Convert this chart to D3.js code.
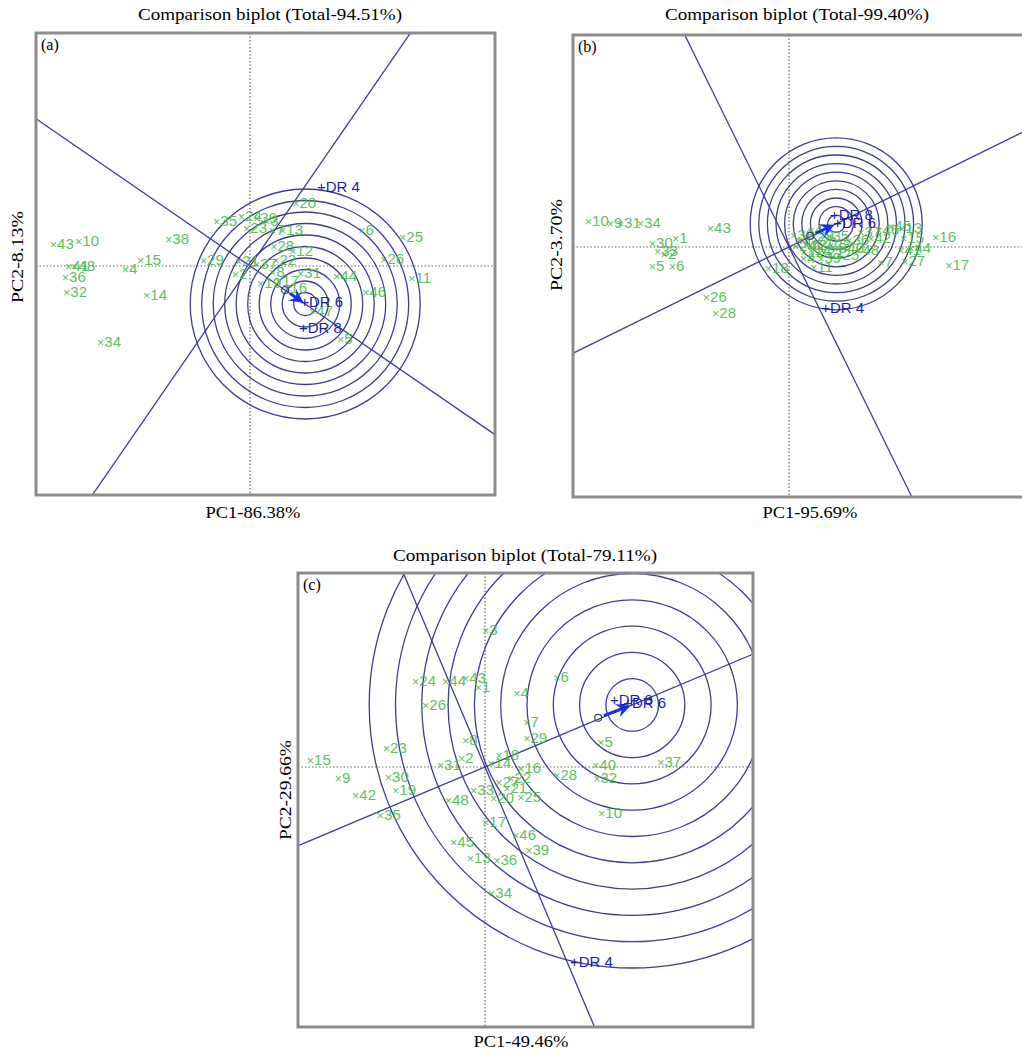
<!DOCTYPE html>
<html>
<head>
<meta charset="utf-8">
<script src="https://cdn.jsdelivr.net/npm/d3@7"></script>
<style>
  body { margin: 0; background: #fff; }
  svg { display: block; }
</style>
</head>
<body>
<div id="chart"></div>
<script>
// genotype scores (PC1, PC2)
var genoA = [
  ["43",-4.88,0.55],["10",-4.25,0.63],["41",-4.5,0],["48",-4.35,0],["36",-4.58,-0.28],
  ["32",-4.55,-0.65],["4",-3.08,-0.08],["15",-2.7,0.15],["14",-2.55,-0.73],["38",-2.0,0.68],
  ["34",-3.7,-1.9],["29",-1.13,0.15],["21",-0.25,0.13],["35",-0.8,1.13],["24",-0.18,1.25],
  ["39",0.2,1.2],["3",0.45,1.13],["20",1.18,1.58],["7",0.6,0.9],["13",0.85,0.9],
  ["6",2.83,0.9],["25",3.85,0.73],["26",3.38,0.18],["11",4.08,-0.3],["46",2.93,-0.65],
  ["28",0.63,0.5],["12",1.1,0.38],["22",0.68,0.15],["2",-0.33,-0.2],["8",0.6,-0.15],
  ["31",1.3,-0.18],["44",2.2,-0.25],["16",0.95,-0.55],["5",2.3,-1.83],["47",1.6,-1.13],
  ["37",0.2,0.05],["17",0.75,-0.38],["19",0.3,-0.43],["23",-0.05,0.95]
];
var genoB = [
  ["10",-4.98,0.65],["9",-4.43,0.6],["31",-4.18,0.6],["34",-3.68,0.6],["43",-1.93,0.48],
  ["1",-2.8,0.23],["30",-3.38,0.1],["33",-3.25,-0.1],["2",-3.08,-0.18],["5",-3.38,-0.48],
  ["6",-2.88,-0.48],["26",-2.03,-1.25],["28",-1.8,-1.65],["18",-0.48,-0.53],["11",0.65,-0.5],
  ["45",2.58,0.53],["13",2.85,0.48],["16",3.7,0.25],["17",4.03,-0.45],["7",2.33,-0.38],
  ["27",2.93,-0.35],["44",3.08,-0.03],["41",2.83,-0.08],["3",0.28,0.18],["12",0.48,0.05],
  ["14",0.58,-0.08],["20",0.73,0.13],["21",0.9,-0.13],["22",0.4,-0.13],["23",1.08,0.05],
  ["24",0.2,0.03],["25",1.28,-0.2],["29",0.65,0.28],["35",1.03,0.28],["36",1.53,0.18],
  ["37",1.83,0.38],["38",0.15,0.3],["39",0.83,-0.28],["40",1.4,-0.03],["42",2.08,0.23],
  ["46",2.28,0.43],["47",0.58,0.43],["48",1.78,-0.08],["4",0.4,-0.28],["8",1.18,-0.03],
  ["15",2.9,0.23]
];
var genoC = [
  ["3",0.05,3.43],["24",-1.7,2.15],["44",-0.95,2.15],["43",-0.45,2.23],["1",-0.13,2.0],
  ["4",0.83,1.85],["6",1.83,2.25],["26",-1.45,1.55],["7",1.08,1.13],["29",1.08,0.73],
  ["5",2.93,0.63],["37",4.43,0.13],["23",-2.43,0.48],["15",-4.33,0.18],["9",-3.63,-0.28],
  ["42",-3.2,-0.7],["30",-2.38,-0.25],["19",-2.2,-0.58],["35",-2.58,-1.2],["31",-1.08,0.05],
  ["2",-0.55,0.23],["14",0.18,0.1],["8",-0.45,0.68],["18",0.38,0.3],["16",0.93,-0.03],
  ["28",1.83,-0.2],["40",2.8,0.05],["32",2.83,-0.28],["10",2.95,-1.15],["48",-0.88,-0.83],
  ["33",-0.25,-0.58],["27",0.38,-0.38],["21",0.58,-0.53],["20",0.25,-0.78],["25",0.93,-0.75],
  ["22",0.68,-0.28],["17",0.05,-1.38],["46",0.8,-1.7],["45",-0.75,-1.88],["39",1.13,-2.08],
  ["13",-0.33,-2.28],["36",0.33,-2.33],["34",0.2,-3.15]
];

// environment vectors
var envA = [["DR 4",1.8,1.98],["DR 6",1.38,-0.9],["DR 8",1.35,-1.55]];
var envB = [["DR 8",1.15,0.8],["DR 6",1.23,0.6],["DR 4",0.93,-1.53]];
var envC = [["DR 8",3.25,1.68],["DR 6",3.58,1.6],["DR 4",2.25,-4.88]];

// ideal environment, average environment, ring spacing
var idealA = [1.38,-0.95], avgA = [0.88,-0.6], ringA = 0.2875;
var idealB = [1.18,0.58],  avgB = [0.53,0.28], ringB = 0.215;
var idealC = [3.68,1.55],  avgC = [2.83,1.23], ringC = 0.6575;
var rings = d3.range(1, 11);

var titles = ["Comparison biplot (Total-94.51%)","Comparison biplot (Total-99.40%)","Comparison biplot (Total-79.11%)"];
var xLabels = ["PC1-86.38%","PC1-95.69%","PC1-49.46%"];
var yLabels = ["PC2-8.13%","PC2-3.70%","PC2-29.66%"];
var tags = ["(a)","(b)","(c)"];

var W = 1022, H = 1055;
var svg = d3.select("#chart").append("svg").attr("width", W).attr("height", H);

var panels = [
  {geno: genoA, env: envA, ideal: idealA, avg: avgA, ring: ringA,
   box: [36,495,33,495], xd: [-5.35,6.125], yd: [-5.725,5.825],
   title: [270,20], xl: [253,518], yl: [17,257]},
  {geno: genoB, env: envB, ideal: idealB, avg: avgB, ring: ringB,
   box: [573,1026,35,497], xd: [-5.4,5.925], yd: [-6.25,5.3],
   title: [797,20], xl: [810,518], yl: [556,245]},
  {geno: genoC, env: envC, ideal: idealC, avg: avgC, ring: ringC,
   box: [298,753,573,1027], xd: [-4.675,6.7], yd: [-6.5,4.85],
   title: [525,561], xl: [521,1047], yl: [285,790]}
];

var lineCol = "#3e3e90", green = "#4cbb4c", envCol = "#1d1daa";
var serif = "Liberation Serif, Times New Roman, serif";

panels.forEach(function(p, i){
  var x = d3.scaleLinear().domain(p.xd).range([p.box[0], p.box[1]]);
  var y = d3.scaleLinear().domain(p.yd).range([p.box[3], p.box[2]]);
  var pw = p.box[1]-p.box[0], ph = p.box[3]-p.box[2];

  svg.append("clipPath").attr("id","clip"+i)
    .append("rect").attr("x",p.box[0]).attr("y",p.box[2]).attr("width",pw).attr("height",ph);

  var g = svg.append("g").attr("clip-path","url(#clip"+i+")");

  // dotted axes through the origin
  g.append("line").attr("x1",x(0)).attr("x2",x(0)).attr("y1",p.box[2]).attr("y2",p.box[3])
    .attr("stroke","#666").attr("stroke-width",1.2).attr("stroke-dasharray","1.5,2");
  g.append("line").attr("x1",p.box[0]).attr("x2",p.box[1]).attr("y1",y(0)).attr("y2",y(0))
    .attr("stroke","#666").attr("stroke-width",1.2).attr("stroke-dasharray","1.5,2");

  // concentric rings around the ideal environment
  g.selectAll("circle.ring").data(rings).enter().append("circle")
    .attr("class","ring")
    .attr("cx",x(p.ideal[0])).attr("cy",y(p.ideal[1]))
    .attr("r",function(k){ return x(k*p.ring) - x(0); })
    .attr("fill","none").attr("stroke",lineCol).attr("stroke-width",1.3);

  // average environment axis and its perpendicular
  var ix = p.ideal[0], iy = p.ideal[1], T = 30;
  g.append("line").attr("x1",x(-T*ix)).attr("y1",y(-T*iy)).attr("x2",x(T*ix)).attr("y2",y(T*iy))
    .attr("stroke",lineCol).attr("stroke-width",1.3);
  g.append("line").attr("x1",x(T*iy)).attr("y1",y(-T*ix)).attr("x2",x(-T*iy)).attr("y2",y(T*ix))
    .attr("stroke",lineCol).attr("stroke-width",1.3);

  // genotypes
  var gt = g.selectAll("text.geno").data(p.geno).enter().append("text")
    .attr("class","geno")
    .attr("x",function(d){ return x(d[1]) - 5; })
    .attr("y",function(d){ return y(d[2]); })
    .attr("dy","0.35em")
    .attr("fill",green).attr("opacity",0.9)
    .style("font-family","Liberation Sans, Arial, sans-serif")
    .style("font-size","15px");
  gt.append("tspan").style("font-size","12.5px").text("\u00d7");
  gt.append("tspan").text(function(d){ return d[0]; });

  // average environment marker and arrow to the ideal environment
  var ax = x(p.avg[0]), ay = y(p.avg[1]), bx = x(ix), by = y(iy);
  var dx = bx-ax, dy = by-ay, len = Math.sqrt(dx*dx+dy*dy);
  var ux = dx/len, uy = dy/len;
  g.append("circle").attr("cx",ax).attr("cy",ay).attr("r",3.5)
    .attr("fill","none").attr("stroke",lineCol).attr("stroke-width",1.2);
  var hx = bx - ux*2, hy = by - uy*2, tx = ax + ux*6, ty = ay + uy*6;
  g.append("line").attr("x1",tx).attr("y1",ty).attr("x2",hx-ux*8).attr("y2",hy-uy*8)
    .attr("stroke","#1530e8").attr("stroke-width",3);
  g.append("path")
    .attr("d","M"+hx+","+hy+"L"+(hx-ux*14-uy*7)+","+(hy-uy*14+ux*7)+"L"+(hx-ux*9)+","+(hy-uy*9)+"L"+(hx-ux*14+uy*7)+","+(hy-uy*14-ux*7)+"Z")
    .attr("fill","#1530e8");

  // environments
  var et = g.selectAll("text.env").data(p.env).enter().append("text")
    .attr("class","env")
    .attr("x",function(d){ return x(d[1]) - 5; })
    .attr("y",function(d){ return y(d[2]); })
    .attr("dy","0.35em")
    .attr("fill",envCol)
    .style("font-family","Liberation Sans, Arial, sans-serif")
    .style("font-size","15px");
  et.append("tspan").text("+");
  et.append("tspan").text(function(d){ return d[0]; });

  // frame
  svg.append("rect").attr("x",p.box[0]).attr("y",p.box[2]).attr("width",pw).attr("height",ph)
    .attr("fill","none").attr("stroke","#8c8c8c").attr("stroke-width",3);

  svg.append("text").attr("x",p.box[0]+5).attr("y",p.box[2]+17).text(tags[i])
    .style("font-family",serif).style("font-size","16px");
  svg.append("text").attr("x",p.title[0]).attr("y",p.title[1]).attr("text-anchor","middle")
    .attr("textLength",264).attr("lengthAdjust","spacingAndGlyphs")
    .text(titles[i]).style("font-family",serif).style("font-size","17px");
  svg.append("text").attr("x",p.xl[0]).attr("y",p.xl[1]).attr("text-anchor","middle")
    .attr("textLength",95).attr("lengthAdjust","spacingAndGlyphs")
    .text(xLabels[i]).style("font-family",serif).style("font-size","17px");
  svg.append("text").attr("transform","translate("+p.yl[0]+","+p.yl[1]+") rotate(-90)")
    .attr("text-anchor","middle").attr("dy","0.35em")
    .attr("textLength",i === 2 ? 100 : 92).attr("lengthAdjust","spacingAndGlyphs")
    .text(yLabels[i]).style("font-family",serif).style("font-size","17px");
});
</script>
</body>
</html>
